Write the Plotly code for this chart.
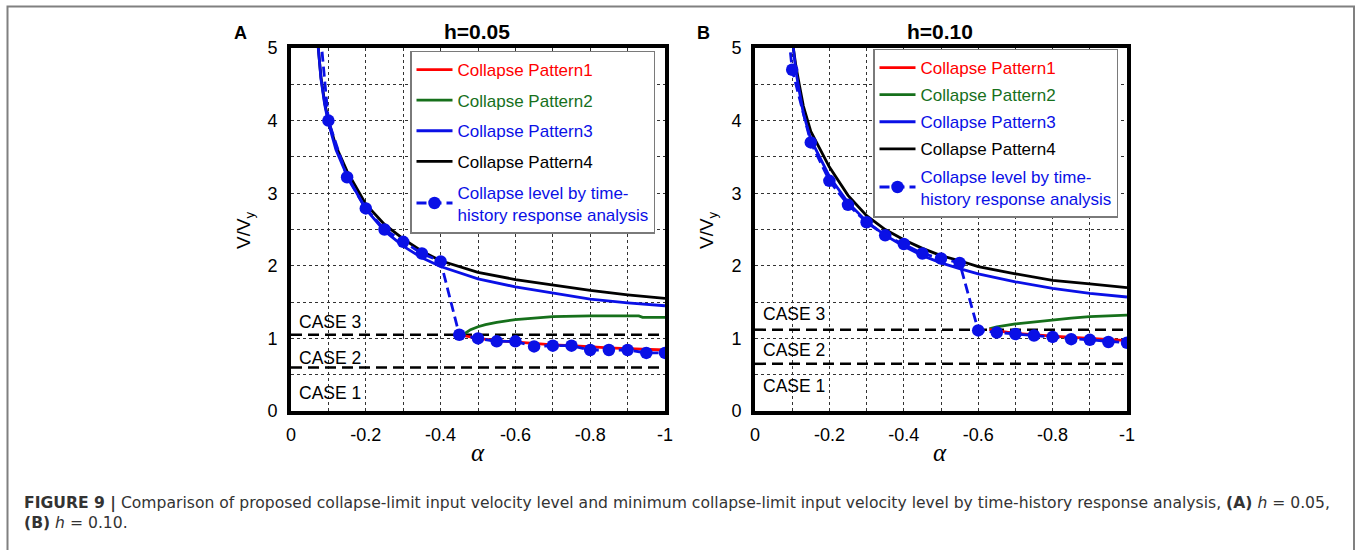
import plotly.graph_objects as go

W, H = 1357, 550

# ---------------- data ----------------
# Panel A (h=0.05)
a_curve_x = [-0.073, -0.08, -0.09, -0.1, -0.12, -0.15, -0.2, -0.25, -0.3, -0.35, -0.4, -0.5, -0.6, -0.7, -0.8, -0.9, -1.0]
a_p4 = [5.0, 4.6, 4.25, 4.0, 3.65, 3.3, 2.85, 2.57, 2.37, 2.2, 2.07, 1.91, 1.81, 1.73, 1.66, 1.6, 1.55]
a_p3 = [5.0, 4.58, 4.22, 3.97, 3.6, 3.24, 2.78, 2.48, 2.27, 2.11, 1.99, 1.82, 1.71, 1.62, 1.54, 1.49, 1.45]
a_p2_x = [-0.46, -0.47, -0.48, -0.5, -0.52, -0.55, -0.6, -0.65, -0.7, -0.8, -0.9, -0.93, -0.94, -1.0]
a_p2 = [1.05, 1.09, 1.12, 1.16, 1.19, 1.22, 1.26, 1.28, 1.30, 1.31, 1.31, 1.31, 1.29, 1.29]
a_p1_x = [-0.46, -0.5, -0.55, -0.6, -0.65, -0.7, -0.75, -0.8, -0.85, -0.9, -0.95, -1.0]
a_p1 = [1.04, 1.0, 0.97, 0.95, 0.92, 0.91, 0.9, 0.88, 0.87, 0.86, 0.85, 0.84]
a_th_x = [-0.05, -0.1, -0.15, -0.2, -0.25, -0.3, -0.35, -0.4, -0.45, -0.5, -0.55, -0.6, -0.65, -0.7, -0.75, -0.8, -0.85, -0.9, -0.95, -1.0]
a_th = [6.8, 4.0, 3.22, 2.79, 2.5, 2.33, 2.17, 2.06, 1.05, 1.0, 0.96, 0.96, 0.89, 0.9, 0.9, 0.84, 0.84, 0.84, 0.8, 0.8]
a_cases = [1.05, 0.6]

# Panel B (h=0.10)
b_curve_x = [-0.103, -0.11, -0.12, -0.13, -0.15, -0.2, -0.25, -0.3, -0.35, -0.4, -0.45, -0.5, -0.55, -0.6, -0.7, -0.8, -0.9, -1.0]
b_p4 = [5.0, 4.75, 4.47, 4.2, 3.85, 3.36, 2.97, 2.69, 2.5, 2.36, 2.24, 2.14, 2.07, 1.99, 1.89, 1.8, 1.75, 1.7]
b_p3 = [5.0, 4.68, 4.38, 4.1, 3.74, 3.23, 2.87, 2.61, 2.42, 2.27, 2.14, 2.04, 1.96, 1.89, 1.78, 1.69, 1.62, 1.57]
b_p2_x = [-0.63, -0.65, -0.7, -0.75, -0.8, -0.85, -0.9, -0.95, -1.0]
b_p2 = [1.13, 1.16, 1.2, 1.23, 1.26, 1.28, 1.3, 1.31, 1.32]
b_p1_x = [-0.63, -0.7, -0.8, -0.9, -1.0]
b_p1 = [1.12, 1.07, 1.03, 1.0, 0.97]
b_th_x = [-0.05, -0.1, -0.15, -0.2, -0.25, -0.3, -0.35, -0.4, -0.45, -0.5, -0.55, -0.6, -0.65, -0.7, -0.75, -0.8, -0.85, -0.9, -0.95, -1.0]
b_th = [7.2, 4.7, 3.7, 3.17, 2.84, 2.6, 2.42, 2.3, 2.17, 2.1, 2.04, 1.11, 1.08, 1.06, 1.04, 1.02, 0.99, 0.98, 0.95, 0.94]
b_cases = [1.12, 0.65]

x_tickvals = [0, -0.2, -0.4, -0.6, -0.8, -1.0]
x_ticktext = ["0", "-0.2", "-0.4", "-0.6", "-0.8", "-1"]
y_tickvals = [0, 1, 2, 3, 4, 5]
y_ticktext = ["0", "1", "2", "3", "4", "5"]

series_names = ["Collapse Pattern1", "Collapse Pattern2", "Collapse Pattern3", "Collapse Pattern4",
                "Collapse level by time-<br>history response analysis"]
case_labels = ["CASE 3", "CASE 2", "CASE 1"]
panel_titles = ["h=0.05", "h=0.10"]
panel_letters = ["A", "B"]
caption = ("<b>FIGURE 9 |</b> Comparison of proposed collapse-limit input velocity level and minimum "
           "collapse-limit input velocity level by time-history response analysis, <b>(A)</b> <i>h</i> = 0.05,"
           "<br><b>(B)</b> <i>h</i> = 0.10.")

# ---------------- style ----------------
RED, GREEN, BLUE, BLACK = "#ff0000", "#16701b", "#0a10e6", "#000000"
FONT = "Liberation Sans, Arial, sans-serif"
GRID = "#333333"

def px(x):
    return x / W

def py(y):
    return 1 - y / H

fig = go.Figure()

panels = [
    dict(cx=a_curve_x, p4=a_p4, p3=a_p3, p2x=a_p2_x, p2=a_p2, p1x=a_p1_x, p1=a_p1,
         thx=a_th_x, th=a_th, cases=a_cases, xa="x", ya="y", legend="legend"),
    dict(cx=b_curve_x, p4=b_p4, p3=b_p3, p2x=b_p2_x, p2=b_p2, p1x=b_p1_x, p1=b_p1,
         thx=b_th_x, th=b_th, cases=b_cases, xa="x2", ya="y2", legend="legend2"),
]

colors = [RED, GREEN, BLUE, BLACK, BLUE]

def lname(i):
    return f"<span style='color:{colors[i]}'>{series_names[i]}</span>"

for k, p in enumerate(panels):
    common = dict(xaxis=p["xa"], yaxis=p["ya"], legend=p["legend"], hoverinfo="skip")
    for cv in p["cases"]:
        fig.add_trace(go.Scatter(x=[0, -1], y=[cv, cv], mode="lines",
                                 line=dict(color="black", width=2.5, dash="11px,6px"),
                                 showlegend=False, **common))
    fig.add_trace(go.Scatter(x=p["p2x"], y=p["p2"], mode="lines", name=lname(1),
                             line=dict(color=GREEN, width=2.8), legendrank=2,
                             legendgroup=f"g2{k}", **common))
    fig.add_trace(go.Scatter(x=p["p1x"], y=p["p1"], mode="lines", name=lname(0),
                             line=dict(color=RED, width=2.8), legendrank=1,
                             legendgroup=f"g1{k}", **common))
    fig.add_trace(go.Scatter(x=p["cx"], y=p["p4"], mode="lines", name=lname(3),
                             line=dict(color=BLACK, width=2.8), legendrank=4,
                             legendgroup=f"g4{k}", **common))
    fig.add_trace(go.Scatter(x=p["cx"], y=p["p3"], mode="lines", name=lname(2),
                             line=dict(color=BLUE, width=2.8), legendrank=3,
                             legendgroup=f"g3{k}", **common))
    fig.add_trace(go.Scatter(x=p["thx"], y=p["th"], mode="lines+markers", name=lname(4),
                             line=dict(color=BLUE, width=2.8, dash="10px,5px"),
                             marker=dict(color=BLUE, size=12.5, line=dict(width=0)),
                             legendrank=5, legendgroup=f"g5{k}", **common))

def xaxis_cfg(dom, anchor):
    return dict(domain=dom, anchor=anchor, range=[0, -1], tickmode="array",
                tickvals=x_tickvals, ticktext=x_ticktext,
                showgrid=True, gridcolor=GRID, griddash="dot", gridwidth=1,
                minor=dict(tickmode="linear", tick0=0, dtick=0.1, showgrid=True,
                           gridcolor=GRID, griddash="dot", gridwidth=1, ticks=""),
                zeroline=False, showline=True, linecolor="black", linewidth=4, mirror=True,
                ticks="", tickfont=dict(family=FONT, size=18, color="black"),
                ticklabelstandoff=4, automargin=False)

def yaxis_cfg(dom, anchor):
    return dict(domain=dom, anchor=anchor, range=[0, 5], tickmode="array",
                tickvals=y_tickvals, ticktext=y_ticktext,
                showgrid=True, gridcolor=GRID, griddash="dot", gridwidth=1,
                minor=dict(tickmode="linear", tick0=0, dtick=0.5, showgrid=True,
                           gridcolor=GRID, griddash="dot", gridwidth=1, ticks=""),
                zeroline=False, showline=True, linecolor="black", linewidth=4, mirror=True,
                ticks="", tickfont=dict(family=FONT, size=18, color="black"),
                ticklabelstandoff=6, automargin=False)

ydom = [py(411), py(48)]
fig.update_layout(
    width=W, height=H, margin=dict(l=0, r=0, t=0, b=0),
    paper_bgcolor="white", plot_bgcolor="white",
    xaxis=xaxis_cfg([px(291), px(665)], "y"),
    yaxis=yaxis_cfg(ydom, "x"),
    xaxis2=xaxis_cfg([px(755), px(1127)], "y2"),
    yaxis2=yaxis_cfg(ydom, "x2"),
    legend=dict(x=px(410), y=py(50.5), xanchor="left", yanchor="top", bgcolor="white",
                bordercolor="#7a7a7a", borderwidth=1.5, font=dict(family=FONT, size=17, color="black"),
                tracegroupgap=5.5, itemwidth=36, traceorder="grouped"),
    legend2=dict(x=px(873), y=py(48.5), xanchor="left", yanchor="top", bgcolor="white",
                 bordercolor="#7a7a7a", borderwidth=1.5, font=dict(family=FONT, size=17, color="black"),
                 tracegroupgap=2, itemwidth=36, traceorder="grouped"),
    showlegend=True,
)

annotations = []
# panel letters and titles
for xl, xt, letter, title in [(240, 477, panel_letters[0], panel_titles[0]),
                              (703, 940, panel_letters[1], panel_titles[1])]:
    annotations.append(dict(x=px(xl), y=py(33), xref="paper", yref="paper", text=f"<b>{letter}</b>",
                            showarrow=False, xanchor="center", yanchor="middle",
                            font=dict(family=FONT, size=18, color="black")))
    annotations.append(dict(x=px(xt), y=py(31), xref="paper", yref="paper", text=f"<b>{title}</b>",
                            showarrow=False, xanchor="center", yanchor="middle",
                            font=dict(family=FONT, size=21, color="black")))
# axis labels
for xv, xa in [(245, 478), (708, 940)]:
    annotations.append(dict(x=px(xv), y=py(230), xref="paper", yref="paper", text="V/V<sub>y</sub>",
                            textangle=-90, showarrow=False, xanchor="center", yanchor="middle",
                            font=dict(family=FONT, size=19, color="black")))
    annotations.append(dict(x=px(xa), y=py(452), xref="paper", yref="paper", text="<i>α</i>",
                            showarrow=False, xanchor="center", yanchor="middle",
                            font=dict(family="Liberation Serif, serif", size=25, color="black")))
# CASE labels
for xr, yr, ys in [("x", "y", [1.23, 0.73, 0.25]), ("x2", "y2", [1.34, 0.84, 0.35])]:
    for lab, yv in zip(case_labels, ys):
        annotations.append(dict(x=-0.017, y=yv, xref=xr, yref=yr, text=lab, showarrow=False,
                                xanchor="left", yanchor="middle",
                                font=dict(family=FONT, size=17.5, color="black")))
# caption
annotations.append(dict(x=px(22), y=py(492), xref="paper", yref="paper", text=caption,
                        showarrow=False, xanchor="left", yanchor="top", align="left",
                        font=dict(family="DejaVu Sans, sans-serif", size=15.6, color="#333333")))
fig.update_layout(annotations=annotations)

# outer figure frame
fig.add_shape(type="rect", xref="paper", yref="paper", x0=px(7.5), x1=px(1354), y0=-0.1, y1=py(6.5),
              line=dict(color="#808080", width=2), fillcolor="rgba(0,0,0,0)", layer="below")

fig.write_html("out.html")
